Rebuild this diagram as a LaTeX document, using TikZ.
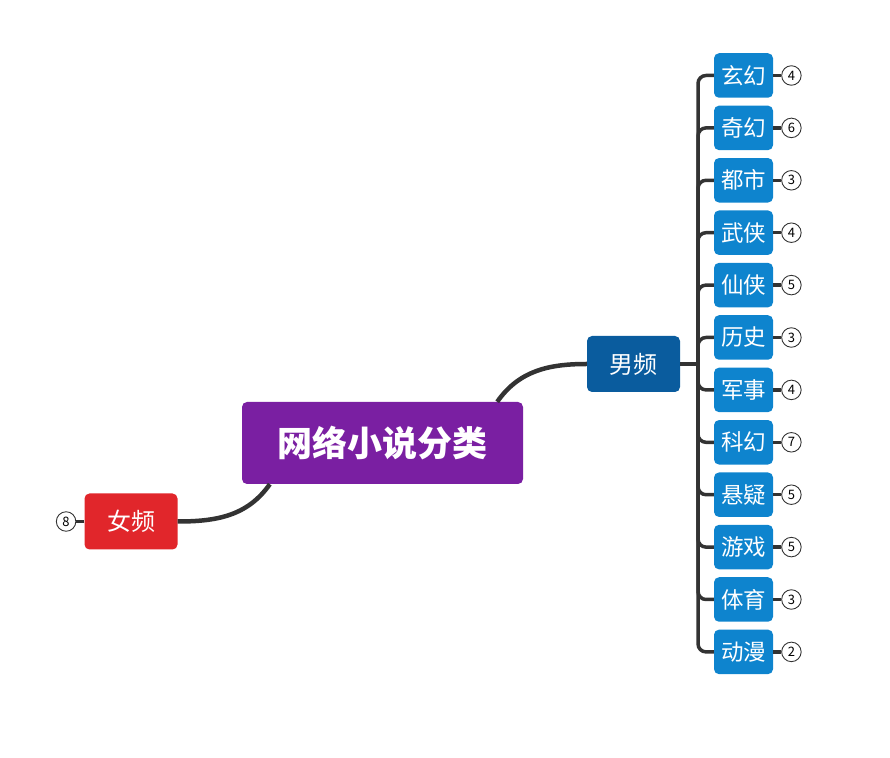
\documentclass[tikz,border=0pt]{standalone}
\usepackage{fontspec}
\setmainfont{Noto Sans CJK SC}
\usepackage{tikz}
\usetikzlibrary{positioning}

\definecolor{rootpurple}{HTML}{7A1FA2}
\definecolor{maleblue}{HTML}{0A5C9E}
\definecolor{leafblue}{HTML}{0E84CE}
\definecolor{femalered}{HTML}{E1262B}
\definecolor{linegray}{HTML}{333333}

\tikzset{
  rootbox/.style={fill=rootpurple, text=white, rounded corners=5pt, minimum width=281pt, minimum height=82pt, font=\fontsize{35}{35}\selectfont\bfseries},
  mainbox/.style={rounded corners=5pt, text=white, minimum width=93pt, minimum height=56pt, font=\fontsize{24}{24}\selectfont},
  leafbox/.style={fill=leafblue, text=white, rounded corners=5pt, minimum width=59pt, minimum height=44.5pt, inner sep=0pt, font=\fontsize{22.5}{22.5}\selectfont},
  badge/.style={draw=linegray, circle, line width=0.9pt, minimum size=19.5pt, inner sep=0pt, font=\fontsize{13}{13}\selectfont},
  link/.style={draw=linegray, line width=4.5pt},
  bracket/.style={draw=linegray, line width=3.5pt, rounded corners=8pt}
}

\begin{document}
\begin{tikzpicture}[x=1pt, y=1pt]
  \useasboundingbox (0,0) rectangle (890,757);

  \node (root) [rootbox] at (382.5,314) {网络小说分类};
  \node (male) [mainbox, fill=maleblue] at (633.5,393) {男频};
  \node (female) [mainbox, fill=femalered] at (131,235.5) {女频};
  \node (b0) [badge, left=8pt of female] {8};

  \coordinate (hub) at (698,393);

  \node (l1) [leafbox] at (743.5,681.5) {玄幻};
  \node (l2) [leafbox, below=7.5pt of l1] {奇幻};
  \node (l3) [leafbox, below=7.5pt of l2] {都市};
  \node (l4) [leafbox, below=7.5pt of l3] {武侠};
  \node (l5) [leafbox, below=7.5pt of l4] {仙侠};
  \node (l6) [leafbox, below=7.5pt of l5] {历史};
  \node (l7) [leafbox, below=7.5pt of l6] {军事};
  \node (l8) [leafbox, below=7.5pt of l7] {科幻};
  \node (l9) [leafbox, below=7.5pt of l8] {悬疑};
  \node (l10) [leafbox, below=7.5pt of l9] {游戏};
  \node (l11) [leafbox, below=7.5pt of l10] {体育};
  \node (l12) [leafbox, below=7.5pt of l11] {动漫};

  \node (b1) [badge, right=8pt of l1] {4};
  \node (b2) [badge, right=8pt of l2] {6};
  \node (b3) [badge, right=8pt of l3] {3};
  \node (b4) [badge, right=8pt of l4] {4};
  \node (b5) [badge, right=8pt of l5] {5};
  \node (b6) [badge, right=8pt of l6] {3};
  \node (b7) [badge, right=8pt of l7] {4};
  \node (b8) [badge, right=8pt of l8] {7};
  \node (b9) [badge, right=8pt of l9] {5};
  \node (b10) [badge, right=8pt of l10] {5};
  \node (b11) [badge, right=8pt of l11] {3};
  \node (b12) [badge, right=8pt of l12] {2};

  % main branches
  \draw[link] ([xshift=-26pt]root.north east) to[out=55, in=180] (male.west);
  \draw[link] ([xshift=28pt]root.south west) to[out=-125, in=0] (female.east);
  \draw[bracket] (female.west) -- (b0);

  % bracket to the leaves
  \draw[bracket] (male.east) -- (hub);
  \draw[bracket] (hub) |- (l1.west);
  \draw[bracket] (hub) |- (l2.west);
  \draw[bracket] (hub) |- (l3.west);
  \draw[bracket] (hub) |- (l4.west);
  \draw[bracket] (hub) |- (l5.west);
  \draw[bracket] (hub) |- (l6.west);
  \draw[bracket] (hub) |- (l7.west);
  \draw[bracket] (hub) |- (l8.west);
  \draw[bracket] (hub) |- (l9.west);
  \draw[bracket] (hub) |- (l10.west);
  \draw[bracket] (hub) |- (l11.west);
  \draw[bracket] (hub) |- (l12.west);

  % counts
  \draw[bracket] (l1) -- (b1);
  \draw[bracket] (l2) -- (b2);
  \draw[bracket] (l3) -- (b3);
  \draw[bracket] (l4) -- (b4);
  \draw[bracket] (l5) -- (b5);
  \draw[bracket] (l6) -- (b6);
  \draw[bracket] (l7) -- (b7);
  \draw[bracket] (l8) -- (b8);
  \draw[bracket] (l9) -- (b9);
  \draw[bracket] (l10) -- (b10);
  \draw[bracket] (l11) -- (b11);
  \draw[bracket] (l12) -- (b12);
\end{tikzpicture}
\end{document}
